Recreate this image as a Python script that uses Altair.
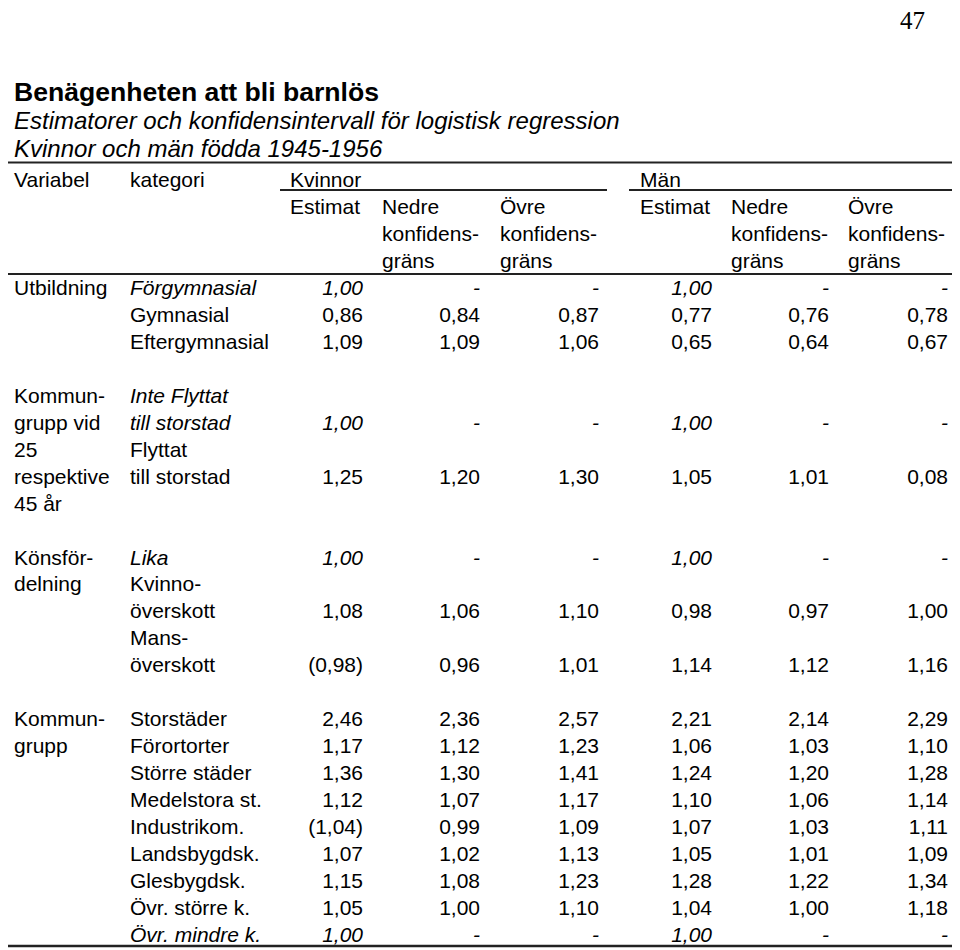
import altair as alt
import pandas as pd

# ---------------- data (table contents) ----------------
page_number = "47"
title = "Benägenheten att bli barnlös"
subtitles = ["Estimatorer och konfidensintervall för logistisk regression",
             "Kvinnor och män födda 1945-1956"]
stub_heads = ["Variabel", "kategori"]
groups = ["Kvinnor", "Män"]
col_heads = [["Estimat"], ["Nedre", "konfidens-", "gräns"], ["Övre", "konfidens-", "gräns"]]

ref_row = ["1,00", "-", "-", "1,00", "-", "-"]

utbildning_cats = ["Förgymnasial", "Gymnasial", "Eftergymnasial"]
utbildning_vals = [ref_row,
                   ["0,86", "0,84", "0,87", "0,77", "0,76", "0,78"],
                   ["1,09", "1,09", "1,06", "0,65", "0,64", "0,67"]]

flytt_var = ["Kommun-", "grupp vid", "25", "respektive", "45 år"]
flytt_cats = [["Inte Flyttat", "till storstad"], ["Flyttat", "till storstad"]]
flytt_vals = [ref_row,
              ["1,25", "1,20", "1,30", "1,05", "1,01", "0,08"]]

kon_var = ["Könsför-", "delning"]
kon_cats = [["Lika"], ["Kvinno-", "överskott"], ["Mans-", "överskott"]]
kon_vals = [ref_row,
            ["1,08", "1,06", "1,10", "0,98", "0,97", "1,00"],
            ["(0,98)", "0,96", "1,01", "1,14", "1,12", "1,16"]]

kommun_var = ["Kommun-", "grupp"]
kommun_cats = ["Storstäder", "Förortorter", "Större städer", "Medelstora st.",
               "Industrikom.", "Landsbygdsk.", "Glesbygdsk.", "Övr. större k.",
               "Övr. mindre k."]
kommun_vals = [["2,46", "2,36", "2,57", "2,21", "2,14", "2,29"],
               ["1,17", "1,12", "1,23", "1,06", "1,03", "1,10"],
               ["1,36", "1,30", "1,41", "1,24", "1,20", "1,28"],
               ["1,12", "1,07", "1,17", "1,10", "1,06", "1,14"],
               ["(1,04)", "0,99", "1,09", "1,07", "1,03", "1,11"],
               ["1,07", "1,02", "1,13", "1,05", "1,01", "1,09"],
               ["1,15", "1,08", "1,23", "1,28", "1,22", "1,34"],
               ["1,05", "1,00", "1,10", "1,04", "1,00", "1,18"],
               ref_row]

# reference (italic) categories
reference_cats = {"Förgymnasial", "Inte Flyttat", "Lika", "Övr. mindre k."}

blocks = [
    (["Utbildning"], [([c], v) for c, v in zip(utbildning_cats, utbildning_vals)]),
    (flytt_var, list(zip(flytt_cats, flytt_vals))),
    (kon_var, list(zip(kon_cats, kon_vals))),
    (kommun_var, [([c], v) for c, v in zip(kommun_cats, kommun_vals)]),
]

# ---------------- layout (positions / styles) ----------------
W, H = 944, 940
X0, Y0 = 8, 8
BASE0, STEP = 295.0, 26.95


def line_of(y):
    return (y - BASE0) / STEP


VAR_X, CAT_X = 14, 130
VAL_RIGHT = [363, 480, 599, 712, 829, 948]
HEAD_LEFT = [290, 382, 500, 640, 731, 848]
GROUP_LEFT = [290, 640]
GROUP_RULE = [(280, 607), (629, 955)]
FONT = "Liberation Sans"

recs = []


def add(text, x, line, align, italic):
    recs.append({"text": text, "x": x, "line": line, "align": align,
                 "italic": italic})


# header (header rows sit on their own baselines)
HEAD_BASE = [187, 214, 241, 268]


def head_line(k):
    return line_of(HEAD_BASE[k])


add(stub_heads[0], VAR_X, head_line(0), "left", False)
add(stub_heads[1], CAT_X, head_line(0), "left", False)
for g, gx in zip(groups, GROUP_LEFT):
    add(g, gx, head_line(0), "left", False)
for gi in range(2):
    for ci, head in enumerate(col_heads):
        for k, t in enumerate(head):
            add(t, HEAD_LEFT[gi * 3 + ci], head_line(1 + k), "left", False)

# body
line = 0
for var_lines, rows in blocks:
    for k, t in enumerate(var_lines):
        add(t, VAR_X, line + k, "left", False)
    l = line
    for cats, vals in rows:
        it = cats[0] in reference_cats
        for k, c in enumerate(cats):
            add(c, CAT_X, l + k, "left", it)
        last = l + len(cats) - 1
        for j, v in enumerate(vals):
            add(v, VAL_RIGHT[j], last, "right", it)
        l += len(cats)
    line += max(len(var_lines), l - line) + 1

df = pd.DataFrame(recs)

titles_df = pd.DataFrame([
    {"text": title, "x": 14, "line": line_of(101), "kind": "title"},
    {"text": subtitles[0], "x": 14, "line": line_of(128.5), "kind": "sub"},
    {"text": subtitles[1], "x": 14, "line": line_of(156.5), "kind": "sub"},
])
page_df = pd.DataFrame([{"text": page_number, "x": 925, "line": line_of(29)}])

rules_df = pd.DataFrame([
    {"x": 1, "x2": 958, "line": line_of(162.5), "w": 2.0},
    {"x": GROUP_RULE[0][0], "x2": GROUP_RULE[0][1], "line": line_of(190), "w": 1.8},
    {"x": GROUP_RULE[1][0], "x2": GROUP_RULE[1][1], "line": line_of(190), "w": 1.8},
    {"x": 1, "x2": 960, "line": line_of(274), "w": 2.0},
    {"x": 1, "x2": 960, "line": line_of(946), "w": 2.5},
])

xs = alt.Scale(domain=[X0, X0 + W], nice=False, zero=False)
ys = alt.Scale(domain=[line_of(Y0 + H), line_of(Y0)], nice=False, zero=False)


def enc(chart):
    return chart.encode(
        x=alt.X("x:Q", scale=xs, axis=None),
        y=alt.Y("line:Q", scale=ys, axis=None),
        text="text:N",
    )


layers = []
for align in ["left", "right"]:
    for it in [False, True]:
        sub = df[(df["align"] == align) & (df["italic"] == it)]
        if len(sub) == 0:
            continue
        kw = dict(align=align, baseline="alphabetic", font=FONT, fontSize=21,
                  color="#000000")
        if it:
            kw["fontStyle"] = "italic"
        layers.append(enc(alt.Chart(sub).mark_text(**kw)))

layers.append(enc(alt.Chart(titles_df[titles_df.kind == "title"]).mark_text(
    align="left", baseline="alphabetic", font=FONT, fontSize=26.6,
    fontWeight="bold", color="#000000")))
layers.append(enc(alt.Chart(titles_df[titles_df.kind == "sub"]).mark_text(
    align="left", baseline="alphabetic", font=FONT, fontSize=24,
    fontStyle="italic", color="#000000")))
layers.append(enc(alt.Chart(page_df).mark_text(
    align="right", baseline="alphabetic", font="Liberation Serif", fontSize=25,
    color="#000000")))

rules = alt.Chart(rules_df).mark_rule(color="#222222").encode(
    x=alt.X("x:Q", scale=xs, axis=None),
    x2="x2:Q",
    y=alt.Y("line:Q", scale=ys, axis=None),
    strokeWidth=alt.StrokeWidth("w:Q", scale=None, legend=None),
)

chart = alt.layer(rules, *layers).properties(
    width=W, height=H, padding=0, autosize="none", background="white"
).configure_view(stroke=None)

chart.save("out.html", embed_options={"renderer": "svg", "actions": False})
